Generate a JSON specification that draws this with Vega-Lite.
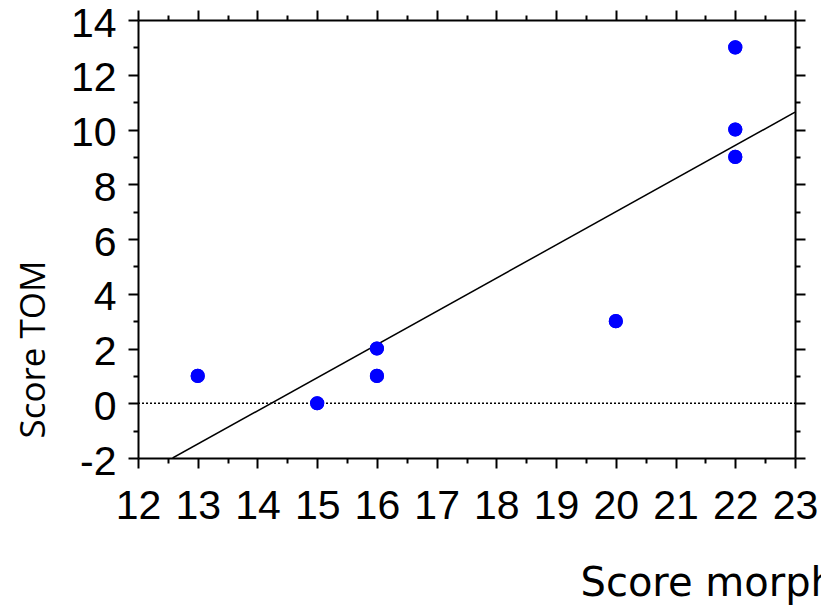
{
  "$schema": "https://vega.github.io/schema/vega-lite/v6.json",
  "width": 657,
  "height": 438,
  "autosize": {"type": "none"},
  "padding": {"left": 138, "top": 20, "right": 26, "bottom": 149},
  "background": "white",
  "config": {
    "view": {"stroke": null},
    "axis": {
      "domainColor": "black",
      "domainWidth": 2,
      "tickColor": "black",
      "tickWidth": 2,
      "grid": false,
      "labelColor": "black",
      "labelFont": "Liberation Sans",
      "labelFontSize": 41,
      "labelFlush": false,
      "labelOverlap": false,
      "labelBound": false,
      "titleColor": "black",
      "titleFont": "Open Sans",
      "titleFontWeight": "normal"
    }
  },
  "datasets": {
    "points": [
      {"morph": 13, "tom": 1},
      {"morph": 15, "tom": 0},
      {"morph": 16, "tom": 2},
      {"morph": 16, "tom": 1},
      {"morph": 20, "tom": 3},
      {"morph": 22, "tom": 13},
      {"morph": 22, "tom": 10},
      {"morph": 22, "tom": 9}
    ],
    "fit": [
      {"morph": 12.58, "tom": -2},
      {"morph": 23, "tom": 10.63}
    ],
    "zero": [
      {"from": 12, "to": 23, "tom": 0}
    ]
  },
  "resolve": {"axis": {"x": "independent", "y": "independent"}},
  "layer": [
    {
      "data": {"name": "zero"},
      "mark": {"type": "rule", "color": "black", "strokeWidth": 1.5, "strokeDash": [2, 2]},
      "encoding": {
        "x": {"field": "from", "type": "quantitative",
              "scale": {"domain": [12, 23], "nice": false, "zero": false},
              "axis": {"orient": "bottom", "values": [12.5, 13.5, 14.5, 15.5, 16.5, 17.5, 18.5, 19.5, 20.5, 21.5, 22.5], "tickSize": 5, "labels": false, "domain": false, "title": null}},
        "x2": {"field": "to"},
        "y": {"field": "tom", "type": "quantitative",
              "scale": {"domain": [-2, 14], "nice": false, "zero": false},
              "axis": {"orient": "left", "values": [-1, 1, 3, 5, 7, 9, 11, 13], "tickSize": 5, "labels": false, "domain": false, "title": null}}
      }
    },
    {
      "data": {"name": "fit"},
      "mark": {"type": "line", "color": "black", "strokeWidth": 1.5, "clip": true},
      "encoding": {
        "x": {"field": "morph", "type": "quantitative",
              "axis": {"orient": "top", "values": [12, 13, 14, 15, 16, 17, 18, 19, 20, 21, 22, 23], "tickSize": 10, "labels": false, "title": null}},
        "y": {"field": "tom", "type": "quantitative",
              "axis": {"orient": "right", "values": [-2, 0, 2, 4, 6, 8, 10, 12, 14], "tickSize": 10, "labels": false, "title": null}}
      }
    },
    {
      "data": {"name": "points"},
      "mark": {"type": "point", "filled": true, "shape": "circle", "size": 200, "color": "#0000FF", "opacity": 1},
      "encoding": {
        "x": {"field": "morph", "type": "quantitative",
              "axis": {"orient": "top", "values": [12.5, 13.5, 14.5, 15.5, 16.5, 17.5, 18.5, 19.5, 20.5, 21.5, 22.5], "tickSize": 5, "labels": false, "domain": false, "title": null}},
        "y": {"field": "tom", "type": "quantitative",
              "axis": {"orient": "right", "values": [-1, 1, 3, 5, 7, 9, 11, 13], "tickSize": 5, "labels": false, "domain": false, "title": null}}
      }
    },
    {
      "data": {"name": "points"},
      "mark": {"type": "point", "filled": true, "shape": "circle", "size": 200, "color": "#0000FF", "opacity": 1},
      "encoding": {
        "x": {"field": "morph", "type": "quantitative",
              "axis": {"orient": "bottom", "values": [12, 13, 14, 15, 16, 17, 18, 19, 20, 21, 22, 23], "tickSize": 10,
                       "labelPadding": 18, "labelBaseline": "top",
                       "title": "Score morphologie", "titleFont": "DejaVu Sans", "titleFontSize": 40, "titleAnchor": "start", "titleAlign": "left",
                       "titleBaseline": "alphabetic", "titleX": 442, "titleY": 137}},
        "y": {"field": "tom", "type": "quantitative",
              "axis": {"orient": "left", "values": [-2, 0, 2, 4, 6, 8, 10, 12, 14], "tickSize": 10,
                       "labelPadding": 12, "labelBaseline": "middle", "labelOffset": 4,
                       "labelExpr": "'' + datum.value",
                       "title": "Score TOM", "titleFontSize": 35, "titleAngle": -90, "titleAlign": "center",
                       "titleBaseline": "alphabetic", "titleX": -94, "titleY": 329}}
      }
    }
  ]
}
